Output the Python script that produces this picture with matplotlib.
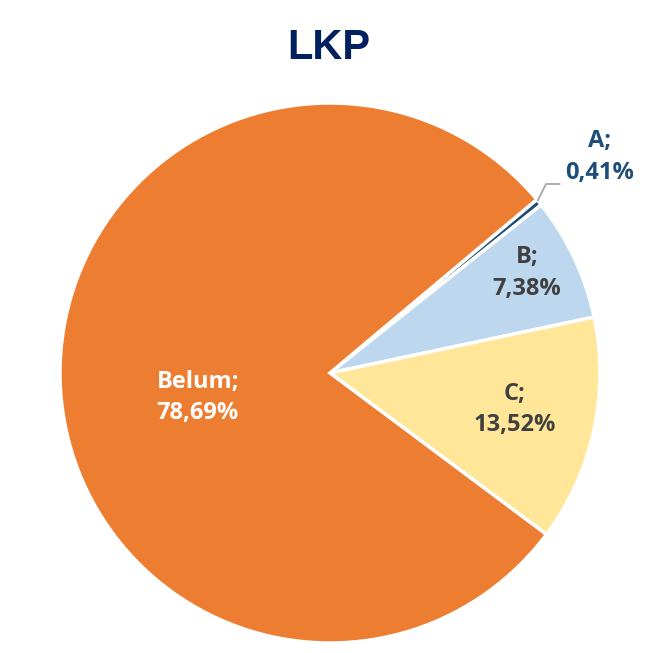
import matplotlib
matplotlib.use("Agg")
import matplotlib.pyplot as plt

categories = ["A", "B", "C", "Belum"]
values = [0.41, 7.38, 13.52, 78.69]
colors = ["#1F4E79", "#BDD7EE", "#FFE699", "#ED7D31"]
text_colors = ["#1F4E79", "#404040", "#404040", "#FFFFFF"]
# label centres in axes coords (pie spans -1..1)
label_pos = [(1.0, 0.8), (0.73, 0.37), (0.685, -0.135), (-0.49, -0.09)]

fig = plt.figure(figsize=(6.58, 6.53), dpi=100)
ax = fig.add_axes([60 / 658, 10 / 653, 540 / 658, 540 / 653])

wedges, _ = ax.pie(values, colors=colors, startangle=40, counterclock=False,
                   radius=1, wedgeprops=dict(edgecolor="white", linewidth=2.5))
ax.set_xlim(-1, 1)
ax.set_ylim(-1, 1)
ax.set_aspect("auto")
ax.axis("off")

for cat, v, tc, (x, y) in zip(categories, values, text_colors, label_pos):
    txt = "{};\n{:.2f}%".format(cat, v).replace(".", ",")
    ax.text(x, y, txt, ha="center", va="center", color=tc, fontsize=17,
            fontweight="bold", family="Open Sans", linespacing=1.4)

# leader line for the small A slice
ax.plot([0.77, 0.80, 0.85], [0.64, 0.70, 0.70], color="#A6A6A6", lw=1.3,
        clip_on=False)

fig.text(0.5, 0.927, "LKP", ha="center", va="center", fontsize=30,
         fontweight="bold", color="#002060", family="Liberation Sans")

fig.savefig("out.png", dpi=100)
